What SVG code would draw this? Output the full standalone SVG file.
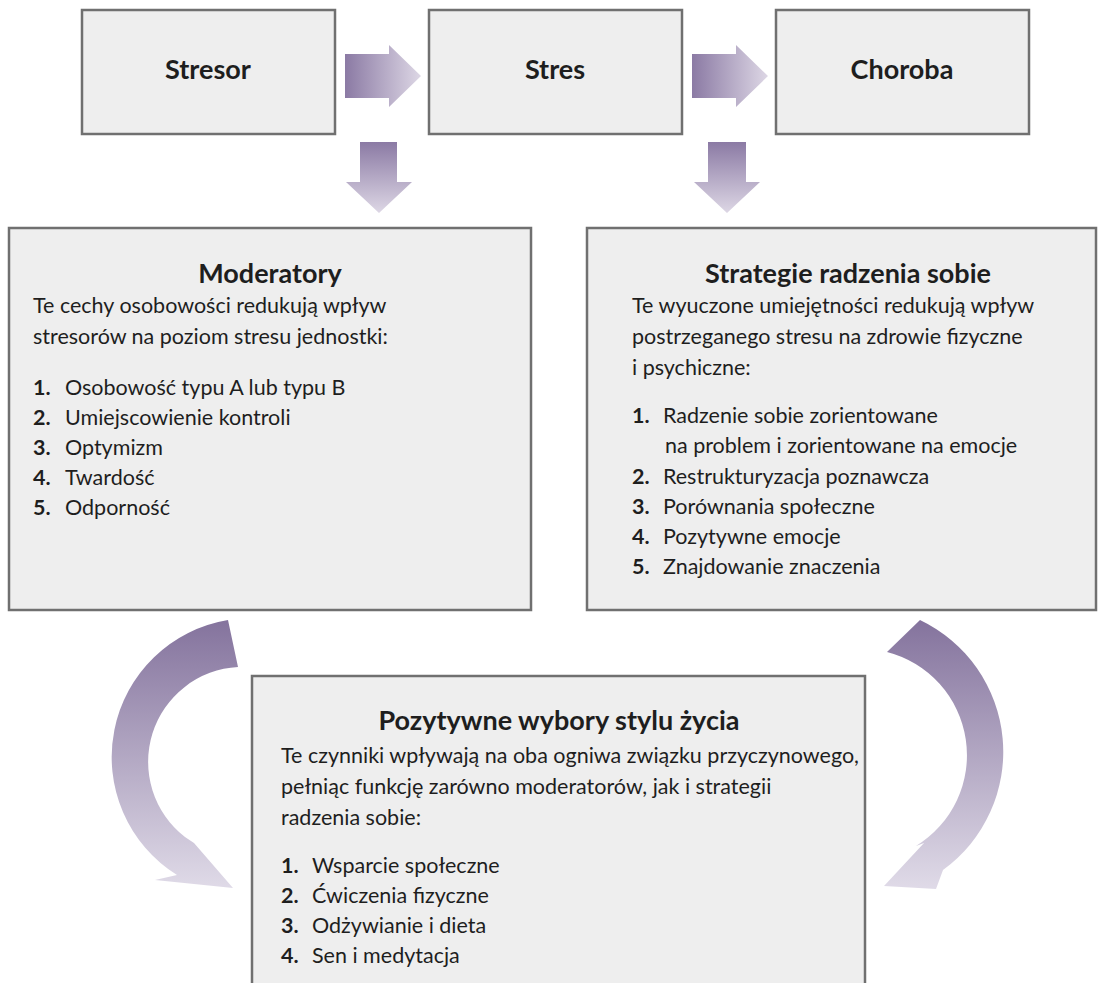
<svg xmlns="http://www.w3.org/2000/svg" width="1098" height="983" viewBox="0 0 1098 983">
<defs>
<style>
.box{fill:#eeeeee;stroke:#707070;stroke-width:2.5}
.t{font-family:Lato,"Liberation Sans",sans-serif;font-size:21.5px;fill:#1e1e1e}
.h{font-family:Lato,"Liberation Sans",sans-serif;font-size:27px;font-weight:bold;fill:#1e1e1e;text-anchor:middle}
.n{font-weight:bold}
</style>
<linearGradient id="gh" x1="0" y1="0" x2="1" y2="0">
<stop offset="0" stop-color="#8b7aa4"/><stop offset="1" stop-color="#ddd7e5"/>
</linearGradient>
<linearGradient id="gv" x1="0" y1="0" x2="0" y2="1">
<stop offset="0" stop-color="#8b7aa4"/><stop offset="1" stop-color="#ddd7e5"/>
</linearGradient>
<linearGradient id="gc" gradientUnits="userSpaceOnUse" x1="0" y1="620" x2="0" y2="890">
<stop offset="0" stop-color="#84739d"/><stop offset="1" stop-color="#e0dbe8"/>
</linearGradient>
</defs>
<rect width="1098" height="983" fill="#ffffff"/>

<g id="connectors">
<path d="M345 54H389V45L421 76L389 107V98H345Z" fill="url(#gh)"/>
<path d="M692 54H736V45L768 76L736 107V98H692Z" fill="url(#gh)"/>
<path d="M360 142H397V182H412L379 213L346 182H360Z" fill="url(#gv)"/>
<path d="M708 142H746V182H760L727 213L694 182H708Z" fill="url(#gv)"/>
<path d="M228 620A139 139 0 0 0 177 875L155 880L233 888L194 843L185 837A95 95 0 0 1 238 667Z" fill="url(#gc)"/>
<path d="M920 620A146 146 0 0 1 943 870L936 889L884 886L924 843L916 846A106.5 106.5 0 0 0 887 652Z" fill="url(#gc)"/>
</g>

<g id="stresor">
<rect class="box" x="82" y="10" width="253" height="124"/>
<text class="h" x="208" y="79">Stresor</text>
</g>
<g id="stres">
<rect class="box" x="429" y="10" width="253" height="124"/>
<text class="h" x="555" y="79">Stres</text>
</g>
<g id="choroba">
<rect class="box" x="776" y="10" width="253" height="124"/>
<text class="h" x="902" y="79">Choroba</text>
</g>

<g id="moderatory">
<rect class="box" x="9" y="228" width="522" height="382"/>
<text class="h" x="270" y="283">Moderatory</text>
<text class="t" x="33" y="313">Te cechy osobowości redukują wpływ</text>
<text class="t" x="33" y="344">stresorów na poziom stresu jednostki:</text>
<text class="t" y="395"><tspan class="n" x="33">1.</tspan><tspan x="65">Osobowość typu A lub typu B</tspan></text>
<text class="t" y="425"><tspan class="n" x="33">2.</tspan><tspan x="65">Umiejscowienie kontroli</tspan></text>
<text class="t" y="455"><tspan class="n" x="33">3.</tspan><tspan x="65">Optymizm</tspan></text>
<text class="t" y="485"><tspan class="n" x="33">4.</tspan><tspan x="65">Twardość</tspan></text>
<text class="t" y="515"><tspan class="n" x="33">5.</tspan><tspan x="65">Odporność</tspan></text>
</g>

<g id="strategie">
<rect class="box" x="587" y="228" width="509" height="382"/>
<text class="h" x="848" y="283">Strategie radzenia sobie</text>
<text class="t" x="632" y="313">Te wyuczone umiejętności redukują wpływ</text>
<text class="t" x="632" y="344">postrzeganego stresu na zdrowie fizyczne</text>
<text class="t" x="632" y="375">i psychiczne:</text>
<text class="t" y="423"><tspan class="n" x="632">1.</tspan><tspan x="663">Radzenie sobie zorientowane</tspan></text>
<text class="t" x="665" y="453">na problem i zorientowane na emocje</text>
<text class="t" y="484"><tspan class="n" x="632">2.</tspan><tspan x="663">Restrukturyzacja poznawcza</tspan></text>
<text class="t" y="514"><tspan class="n" x="632">3.</tspan><tspan x="663">Porównania społeczne</tspan></text>
<text class="t" y="544"><tspan class="n" x="632">4.</tspan><tspan x="663">Pozytywne emocje</tspan></text>
<text class="t" y="574"><tspan class="n" x="632">5.</tspan><tspan x="663">Znajdowanie znaczenia</tspan></text>
</g>

<g id="styl-zycia">
<rect class="box" x="252" y="676" width="613" height="330"/>
<text class="h" x="559" y="730">Pozytywne wybory stylu życia</text>
<text class="t" x="281" y="763">Te czynniki wpływają na oba ogniwa związku przyczynowego,</text>
<text class="t" x="281" y="794">pełniąc funkcję zarówno moderatorów, jak i strategii</text>
<text class="t" x="281" y="825">radzenia sobie:</text>
<text class="t" y="873"><tspan class="n" x="281">1.</tspan><tspan x="312">Wsparcie społeczne</tspan></text>
<text class="t" y="903"><tspan class="n" x="281">2.</tspan><tspan x="312">Ćwiczenia fizyczne</tspan></text>
<text class="t" y="933"><tspan class="n" x="281">3.</tspan><tspan x="312">Odżywianie i dieta</tspan></text>
<text class="t" y="963"><tspan class="n" x="281">4.</tspan><tspan x="312">Sen i medytacja</tspan></text>
</g>
</svg>
